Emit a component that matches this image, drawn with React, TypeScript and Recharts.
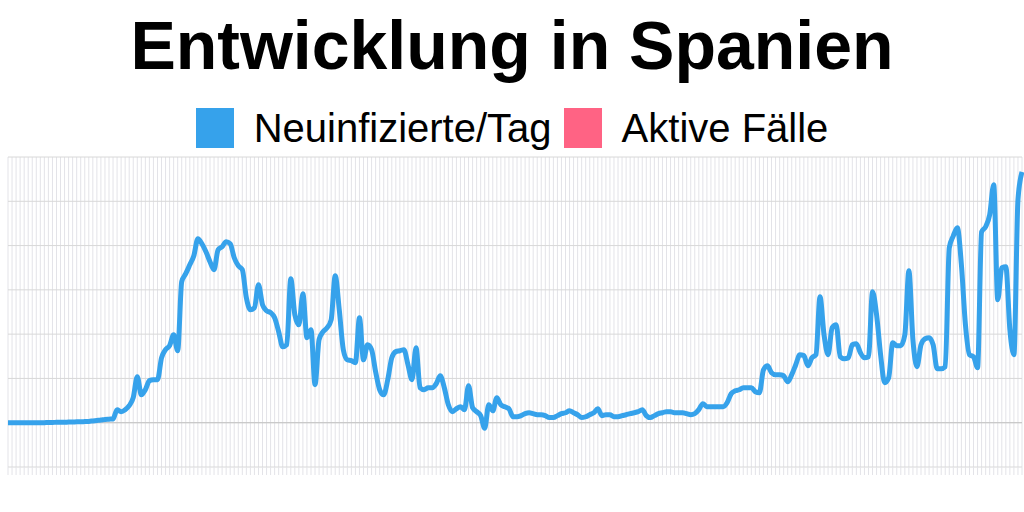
import { LineChart, Line, XAxis, YAxis, CartesianGrid, ReferenceLine } from "recharts";

// Neuinfizierte pro Tag (ein Wert pro Tag)
const anfang = [
  0, 0, 0, 0, 0, 0, 0, 0, 0, 0, 10, 10, 20, 20, 20, 30, 30, 40, 40, 50, 60, 80, 100, 120, 150,
  160, 170,
];
const welle1 = [
  590, 500, 590, 770, 1130, 2080, 1260, 1490, 1900, 1940, 1940, 2930, 3300, 3480, 3970, 3250,
  6370, 6730, 7130, 7540, 8310, 8080, 7720, 7270, 6910, 7810, 7950, 8170, 8080, 7450, 7090, 6910,
  5640, 5100, 5190, 6230, 5330, 5060, 4970, 4740, 4110, 3430, 3520, 6500, 4880, 4420, 5820, 3840,
  4200, 1720, 3750, 4110, 4290, 4650, 6640, 5100, 3300, 2840, 2800, 2710, 4740, 2840, 3520, 3300,
  2300, 1490, 1260, 1940, 2930, 3210, 3250, 3300, 2620, 1940, 3390, 1580, 1490, 1580, 1580, 1760,
  2120, 1580, 810, 500, 630, 720, 590, 1670, 680, 500, 320, -250, 810, 540, 1130, 810, 720, 630,
];
const sommer = [
  270, 270, 320, 410, 450, 410, 360, 360, 320, 230, 230, 320, 410, 450, 540, 450, 360, 230, 270,
  360, 450, 630, 320, 360, 360, 270, 270, 320, 360, 410, 450, 500, 590, 320, 230, 320, 410, 450,
  500, 500, 450, 450, 450, 410, 360, 410, 590, 860, 720, 720, 720, 720, 720,
];
const welle2 = [
  900, 1310, 1440, 1490, 1580, 1580, 1580, 1400, 1350, 2390, 2570, 2260, 2170, 2170, 2120, 1850,
  2170, 2620, 3070, 3030, 2570, 2930, 3070, 5690, 3970, 3070, 4290, 4420, 2980, 2890, 2930, 3520,
  3570, 3160, 2930, 2980, 5910, 4880, 3070, 1810, 2030, 3610, 3480, 3480, 3970, 6860, 3750, 2530,
  3520, 3790, 3840, 3520, 2440, 2440, 2530, 7900, 8440, 8800, 7130, 4420, 3070, 2980, 2480, 8620,
  8850, 9390, 10750, 5550, 7000, 7040, 4200, 3070, 10070, 11330,
];

const yTicks = [-2000, 0, 2000, 4000, 6000, 8000, 10000, 12000];
const legendItems = [
  { name: "Neuinfizierte/Tag", color: "#36a2eb" },
  { name: "Aktive Fälle", color: "#ff6384" },
];

const neu = [...anfang, ...welle1, ...sommer, ...welle2];
const data = neu.map((v, i) => ({ tag: i, neu: v }));

const font = '"Liberation Sans", Arial, Helvetica, sans-serif';

// Achsenbeschriftungen sind in der Vorlage nicht zu sehen
const NoLabel = () => <g />;

export default function App() {
  return (
    <div
      style={{
        position: "absolute",
        left: 0,
        top: 0,
        width: 1024,
        height: 512,
        background: "#fff",
        fontFamily: font,
      }}
    >
      <div
        style={{
          position: "absolute",
          top: 11,
          left: 0,
          width: 1024,
          textAlign: "center",
          fontSize: 68,
          lineHeight: "68px",
          fontWeight: "bold",
          color: "#000",
        }}
      >
        Entwicklung in Spanien
      </div>
      <div
        style={{
          position: "absolute",
          top: 108,
          left: 0,
          width: 1024,
          height: 40,
          display: "flex",
          justifyContent: "center",
          alignItems: "center",
        }}
      >
        {legendItems.map((it, i) => (
          <div
            key={it.name}
            style={{ display: "flex", alignItems: "center", marginLeft: i ? 12 : 0 }}
          >
            <div style={{ width: 38, height: 40, background: it.color, marginRight: 20 }} />
            <span style={{ fontSize: 40, lineHeight: "40px", color: "#000" }}>{it.name}</span>
          </div>
        ))}
      </div>
      <div style={{ position: "absolute", left: 0, top: 0 }}>
        <LineChart
          width={1024}
          height={512}
          data={data}
          margin={{ top: 157, right: 2, bottom: 35, left: 8 }}
        >
          <CartesianGrid horizontal={false} stroke="#e3e3e8" />
          <CartesianGrid vertical={false} stroke="#d8d8d8" />
          <XAxis
            dataKey="tag"
            scale="point"
            interval={0}
            height={10}
            tick={NoLabel}
            tickSize={8}
            tickLine={{ stroke: "#e3e3e8" }}
            axisLine={false}
            padding={{ left: 0, right: 0 }}
          />
          <YAxis
            type="number"
            domain={[-2000, 12000]}
            ticks={yTicks}
            interval={0}
            width={0}
            tick={NoLabel}
            tickLine={false}
            axisLine={{ stroke: "#cccccc" }}
          />
          <ReferenceLine y={0} stroke="#c4c4c4" />
          <Line
            type="monotone"
            dataKey="neu"
            stroke="#36a2eb"
            strokeWidth={5}
            dot={false}
            isAnimationActive={false}
          />
        </LineChart>
      </div>
    </div>
  );
}
